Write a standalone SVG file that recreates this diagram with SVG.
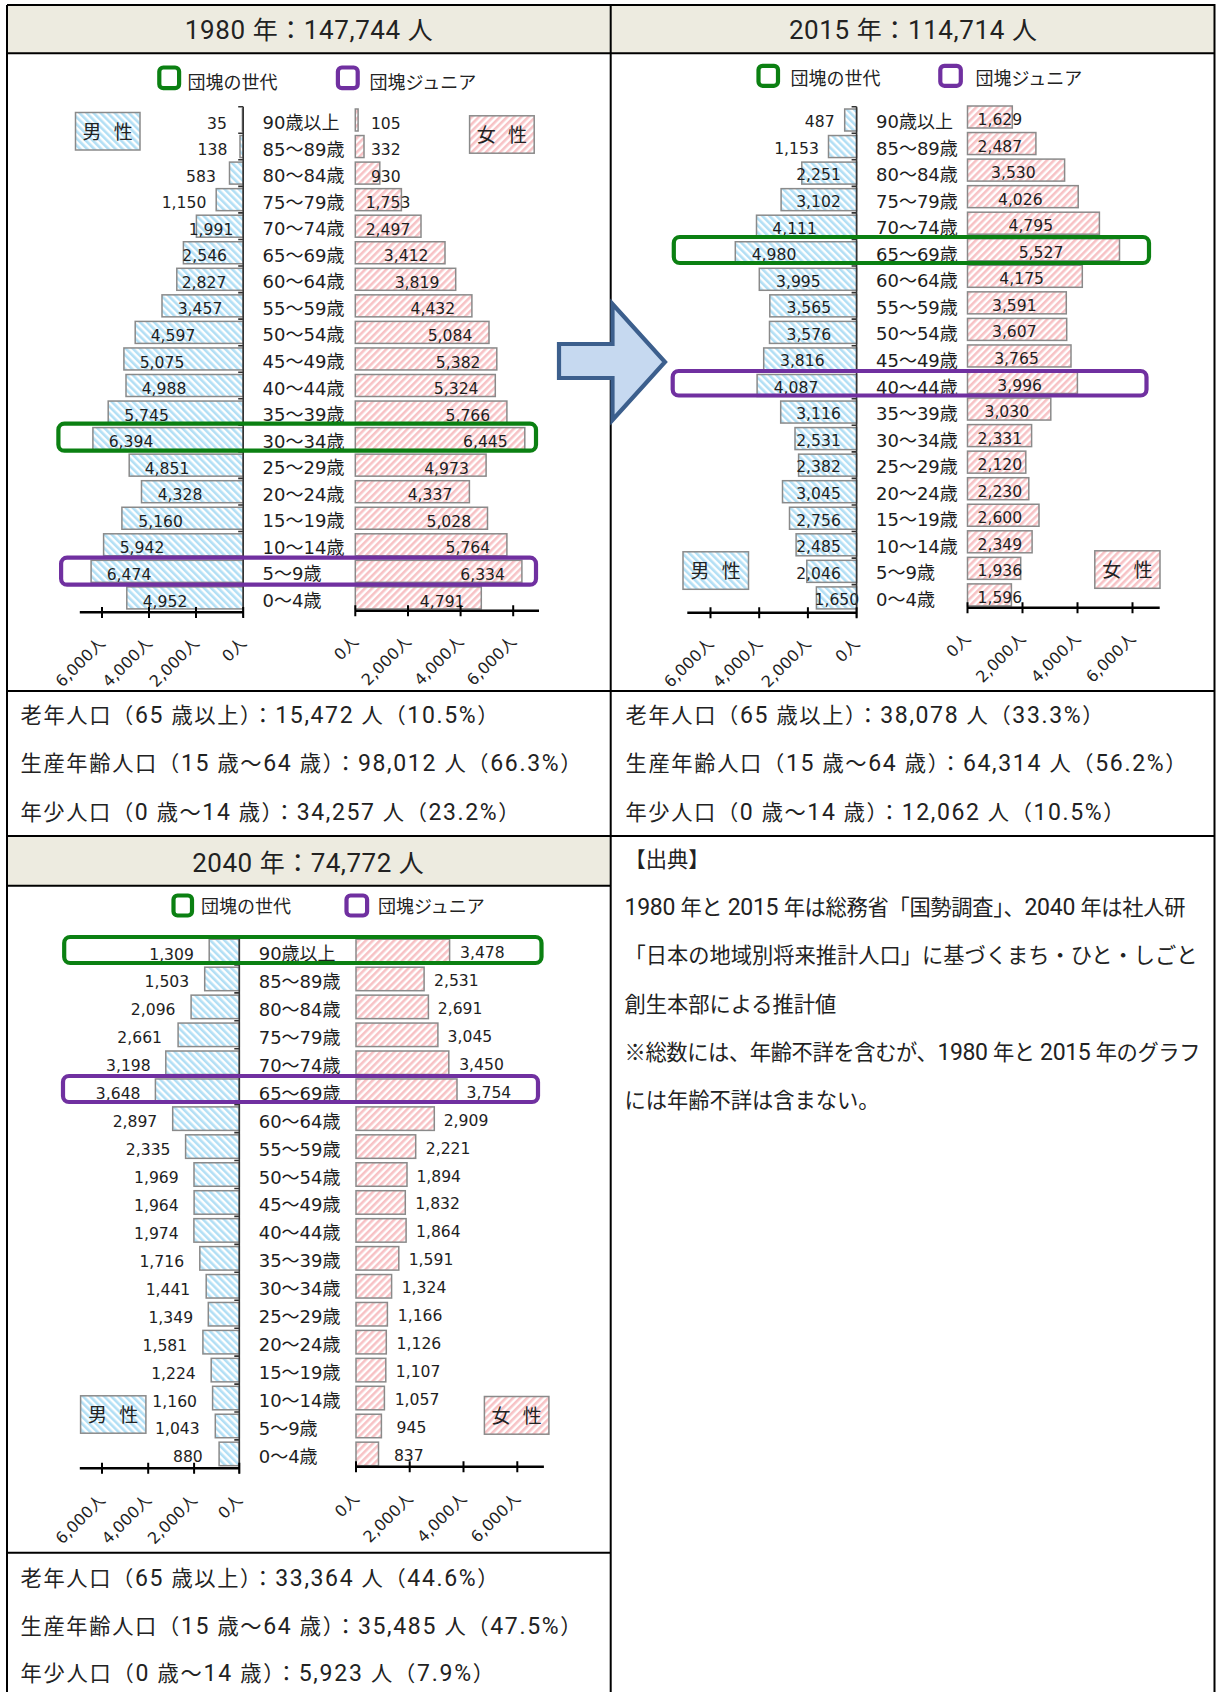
<svg xmlns="http://www.w3.org/2000/svg" width="1216" height="1692" viewBox="0 0 1216 1692">
<style>
.num{font-family:"DejaVu Sans","Noto Sans CJK JP",sans-serif;font-size:15.6px;fill:#1e1e1e;text-anchor:middle}
.ne{text-anchor:end}
.ns{text-anchor:start}
.age{font-family:"DejaVu Sans","Noto Sans CJK JP",sans-serif;font-size:18px;fill:#1e1e1e}
.leg{font-family:"Noto Sans CJK JP",sans-serif;font-size:18px;fill:#222}
.sex{font-family:"Noto Sans CJK JP",sans-serif;font-size:19px;fill:#222;text-anchor:middle;word-spacing:8px}
.body{font-family:"Noto Sans CJK JP",sans-serif;font-size:21.25px;fill:#222}
.lt{font-family:Roboto,"Noto Sans CJK JP",sans-serif;font-size:23px}
.title{font-family:"Noto Sans CJK JP",sans-serif;font-size:25px;fill:#222;text-anchor:middle}
.tl{font-family:Roboto,"Noto Sans CJK JP",sans-serif;font-size:26px}
.tick{font-family:"DejaVu Sans","Noto Sans CJK JP",sans-serif;font-size:16px;fill:#1e1e1e;text-anchor:end}
.bm{fill:url(#hm);stroke:#8a8a8a;stroke-width:1.5}
.bf{fill:url(#hf);stroke:#8a8a8a;stroke-width:1.5}
.ax{stroke:#000;stroke-width:2.6;fill:none}
.tk{stroke:#000;stroke-width:2;fill:none}
.va{stroke:#333;stroke-width:1.6;fill:none}
.hg{fill:none;stroke:#0b8012;stroke-width:4.2}
.hp{fill:none;stroke:#7030a0;stroke-width:4.2}
.grid{stroke:#000;stroke-width:2;fill:none}
</style>
<defs>
<pattern id="hm" width="5" height="5" patternUnits="userSpaceOnUse" patternTransform="rotate(-45)"><rect width="5" height="5" fill="#fff"/><rect width="2.6" height="5" fill="#b2dff5"/></pattern>
<pattern id="hf" width="5" height="5" patternUnits="userSpaceOnUse" patternTransform="rotate(45)"><rect width="5" height="5" fill="#fff"/><rect width="2.6" height="5" fill="#f7c2c5"/></pattern>
</defs>
<rect width="1216" height="1692" fill="#fff"/>
<g id="table">
<rect x="7" y="5" width="1207" height="48.3" fill="#edebe0"/>
<rect x="7" y="836" width="603.7" height="49.7" fill="#edebe0"/>
<path class="grid" d="M7 5H1214.5V1700M7 5V1700M7 53.3H1214.5M7 691H1214.5M7 836H1214.5M7 885.7H610.7M7 1552.7H610.7M610.7 5V1692"/>
</g>
<g id="headers">
<text class="title" x="308.8" y="38.6" textLength="248"><tspan class="tl">1980 </tspan>年：<tspan class="tl">147,744 </tspan>人</text>
<text class="title" x="912.9" y="38.6" textLength="248"><tspan class="tl">2015 </tspan>年：<tspan class="tl">114,714 </tspan>人</text>
<text class="title" x="308" y="872" textLength="231.5"><tspan class="tl">2040 </tspan>年：<tspan class="tl">74,772 </tspan>人</text>
</g>
<g id="chart1980">
<rect x="159.3" y="67.5" width="19.8" height="20.7" rx="4" class="hg" stroke-width="5"/>
<text class="leg" x="187.5" y="88.5">団塊の世代</text>
<rect x="337.9" y="67.5" width="19.8" height="20.7" rx="4" class="hp" stroke-width="5"/>
<text class="leg" x="369.5" y="88.5">団塊ジュニア</text>
<rect class="bm" x="75.5" y="112.5" width="64.5" height="37.5"/>
<text class="sex" x="107.7" y="138.5">男 性</text>
<rect class="bf" x="469.6" y="115.8" width="64.6" height="37.4"/>
<text class="sex" x="501.9" y="141.7">女 性</text>
<g transform="translate(0,120)"><rect class="bm" x="242.4" y="-11" width="0.8" height="22"/><rect class="bf" x="355.3" y="-11" width="2.8" height="22"/><text class="num" x="217" y="8.6">35</text><text class="age" x="262.6" y="9">90歳以上</text><text class="num" x="385.8" y="8.6">105</text></g>
<g transform="translate(0,146.55)"><rect class="bm" x="240" y="-11" width="3.2" height="22"/><rect class="bf" x="355.3" y="-11" width="8.7" height="22"/><text class="num" x="212.5" y="8.6">138</text><text class="age" x="262.6" y="9">85～89歳</text><text class="num" x="385.8" y="8.6">332</text></g>
<g transform="translate(0,173.1)"><rect class="bm" x="229.5" y="-11" width="13.7" height="22"/><rect class="bf" x="355.3" y="-11" width="24.5" height="22"/><text class="num" x="201" y="8.6">583</text><text class="age" x="262.6" y="9">80～84歳</text><text class="num" x="385.8" y="8.6">930</text></g>
<g transform="translate(0,199.65)"><rect class="bm" x="216.2" y="-11" width="27" height="22"/><rect class="bf" x="355.3" y="-11" width="46.1" height="22"/><text class="num" x="184" y="8.6">1,150</text><text class="age" x="262.6" y="9">75～79歳</text><text class="num" x="388" y="8.6">1,753</text></g>
<g transform="translate(0,226.2)"><rect class="bm" x="196.4" y="-11" width="46.8" height="22"/><rect class="bf" x="355.3" y="-11" width="65.7" height="22"/><text class="num" x="211" y="8.6">1,991</text><text class="age" x="262.6" y="9">70～74歳</text><text class="num" x="388" y="8.6">2,497</text></g>
<g transform="translate(0,252.75)"><rect class="bm" x="183.4" y="-11" width="59.8" height="22"/><rect class="bf" x="355.3" y="-11" width="89.7" height="22"/><text class="num" x="204.7" y="8.6">2,546</text><text class="age" x="262.6" y="9">65～69歳</text><text class="num" x="406.2" y="8.6">3,412</text></g>
<g transform="translate(0,279.3)"><rect class="bm" x="176.8" y="-11" width="66.4" height="22"/><rect class="bf" x="355.3" y="-11" width="100.4" height="22"/><text class="num" x="204" y="8.6">2,827</text><text class="age" x="262.6" y="9">60～64歳</text><text class="num" x="417" y="8.6">3,819</text></g>
<g transform="translate(0,305.85)"><rect class="bm" x="162" y="-11" width="81.2" height="22"/><rect class="bf" x="355.3" y="-11" width="116.6" height="22"/><text class="num" x="200" y="8.6">3,457</text><text class="age" x="262.6" y="9">55～59歳</text><text class="num" x="432.9" y="8.6">4,432</text></g>
<g transform="translate(0,332.4)"><rect class="bm" x="135.2" y="-11" width="108" height="22"/><rect class="bf" x="355.3" y="-11" width="133.7" height="22"/><text class="num" x="173" y="8.6">4,597</text><text class="age" x="262.6" y="9">50～54歳</text><text class="num" x="450" y="8.6">5,084</text></g>
<g transform="translate(0,358.95)"><rect class="bm" x="123.9" y="-11" width="119.3" height="22"/><rect class="bf" x="355.3" y="-11" width="141.5" height="22"/><text class="num" x="162" y="8.6">5,075</text><text class="age" x="262.6" y="9">45～49歳</text><text class="num" x="458.2" y="8.6">5,382</text></g>
<g transform="translate(0,385.5)"><rect class="bm" x="126" y="-11" width="117.2" height="22"/><rect class="bf" x="355.3" y="-11" width="140" height="22"/><text class="num" x="164" y="8.6">4,988</text><text class="age" x="262.6" y="9">40～44歳</text><text class="num" x="456.2" y="8.6">5,324</text></g>
<g transform="translate(0,412.05)"><rect class="bm" x="108.2" y="-11" width="135" height="22"/><rect class="bf" x="355.3" y="-11" width="151.6" height="22"/><text class="num" x="146.5" y="8.6">5,745</text><text class="age" x="262.6" y="9">35～39歳</text><text class="num" x="467.9" y="8.6">5,766</text></g>
<g transform="translate(0,438.6)"><rect class="bm" x="92.9" y="-11" width="150.3" height="22"/><rect class="bf" x="355.3" y="-11" width="169.5" height="22"/><text class="num" x="131" y="8.6">6,394</text><text class="age" x="262.6" y="9">30～34歳</text><text class="num" x="485.4" y="8.6">6,445</text></g>
<g transform="translate(0,465.15)"><rect class="bm" x="129.2" y="-11" width="114" height="22"/><rect class="bf" x="355.3" y="-11" width="130.8" height="22"/><text class="num" x="167" y="8.6">4,851</text><text class="age" x="262.6" y="9">25～29歳</text><text class="num" x="446.5" y="8.6">4,973</text></g>
<g transform="translate(0,491.7)"><rect class="bm" x="141.5" y="-11" width="101.7" height="22"/><rect class="bf" x="355.3" y="-11" width="114.1" height="22"/><text class="num" x="180" y="8.6">4,328</text><text class="age" x="262.6" y="9">20～24歳</text><text class="num" x="430" y="8.6">4,337</text></g>
<g transform="translate(0,518.25)"><rect class="bm" x="121.9" y="-11" width="121.3" height="22"/><rect class="bf" x="355.3" y="-11" width="132.2" height="22"/><text class="num" x="160.6" y="8.6">5,160</text><text class="age" x="262.6" y="9">15～19歳</text><text class="num" x="448.8" y="8.6">5,028</text></g>
<g transform="translate(0,544.8)"><rect class="bm" x="103.6" y="-11" width="139.6" height="22"/><rect class="bf" x="355.3" y="-11" width="151.6" height="22"/><text class="num" x="142" y="8.6">5,942</text><text class="age" x="262.6" y="9">10～14歳</text><text class="num" x="467.9" y="8.6">5,764</text></g>
<g transform="translate(0,571.35)"><rect class="bm" x="91.1" y="-11" width="152.1" height="22"/><rect class="bf" x="355.3" y="-11" width="166.6" height="22"/><text class="num" x="129" y="8.6">6,474</text><text class="age" x="262.6" y="9">5～9歳</text><text class="num" x="482.6" y="8.6">6,334</text></g>
<g transform="translate(0,597.9)"><rect class="bm" x="126.8" y="-11" width="116.4" height="22"/><rect class="bf" x="355.3" y="-11" width="126" height="22"/><text class="num" x="165" y="8.6">4,952</text><text class="age" x="262.6" y="9">0～4歳</text><text class="num" x="442.2" y="8.6">4,791</text></g>
<path class="va" d="M243.2 106.7V617M238.2 106.7h5M238.2 133.3h5M238.2 159.8h5M238.2 186.4h5M238.2 212.9h5M238.2 239.5h5M238.2 266h5M238.2 292.6h5M238.2 319.1h5M238.2 345.7h5M238.2 372.2h5M238.2 398.8h5M238.2 425.3h5M238.2 451.9h5M238.2 478.4h5M238.2 505h5M238.2 531.5h5M238.2 558.1h5M238.2 584.6h5"/>
<path class="ax" d="M79.8 612.3H243.2M355.3 610.7H539"/>
<path class="tk" d="M102 607v11M149 607v11M196 607v11M243.2 607v11M355.3 605.2v11M408 605.2v11M460.6 605.2v11M513.2 605.2v11"/>
<text class="tick" transform="translate(106,644.3) rotate(-45)">6,000人</text>
<text class="tick" transform="translate(153,644.3) rotate(-45)">4,000人</text>
<text class="tick" transform="translate(200,644.3) rotate(-45)">2,000人</text>
<text class="tick" transform="translate(247.2,644.3) rotate(-45)">0人</text>
<text class="tick" transform="translate(359.3,642.7) rotate(-45)">0人</text>
<text class="tick" transform="translate(412,642.7) rotate(-45)">2,000人</text>
<text class="tick" transform="translate(464.6,642.7) rotate(-45)">4,000人</text>
<text class="tick" transform="translate(517.2,642.7) rotate(-45)">6,000人</text>
<rect class="hg" x="58.4" y="423.7" width="477.6" height="27" rx="6"/>
<rect class="hp" x="61.1" y="557.7" width="474.9" height="27" rx="6"/>
</g>
<g id="chart2015">
<rect x="758.5" y="65.8" width="19.5" height="20" rx="4" class="hg" stroke-width="5"/>
<text class="leg" x="790.5" y="85">団塊の世代</text>
<rect x="940.3" y="65.8" width="20.5" height="20" rx="4" class="hp" stroke-width="5"/>
<text class="leg" x="975.5" y="85">団塊ジュニア</text>
<g transform="translate(0,120)"><rect class="bm" x="844.7" y="-11" width="11.9" height="22"/><rect class="bf" x="967.5" y="-14" width="44.8" height="22"/><text class="num" x="819.7" y="7.3">487</text><text class="age" x="876" y="8">90歳以上</text><text class="num" x="999.9" y="5">1,629</text></g>
<g transform="translate(0,146.55)"><rect class="bm" x="828.5" y="-11" width="28.1" height="22"/><rect class="bf" x="967.5" y="-14" width="68.4" height="22"/><text class="num" x="796.5" y="7.3">1,153</text><text class="age" x="876" y="8">85～89歳</text><text class="num" x="999.9" y="5">2,487</text></g>
<g transform="translate(0,173.1)"><rect class="bm" x="801.8" y="-11" width="54.8" height="22"/><rect class="bf" x="967.5" y="-14" width="97.1" height="22"/><text class="num" x="818.5" y="7.3">2,251</text><text class="age" x="876" y="8">80～84歳</text><text class="num" x="1013.4" y="5">3,530</text></g>
<g transform="translate(0,199.65)"><rect class="bm" x="781.1" y="-11" width="75.5" height="22"/><rect class="bf" x="967.5" y="-14" width="110.7" height="22"/><text class="num" x="818.5" y="7.3">3,102</text><text class="age" x="876" y="8">75～79歳</text><text class="num" x="1020.3" y="5">4,026</text></g>
<g transform="translate(0,226.2)"><rect class="bm" x="756.5" y="-11" width="100.1" height="22"/><rect class="bf" x="967.5" y="-14" width="131.9" height="22"/><text class="num" x="794.6" y="7.3">4,111</text><text class="age" x="876" y="8">70～74歳</text><text class="num" x="1030.8" y="5">4,795</text></g>
<g transform="translate(0,252.75)"><rect class="bm" x="735.3" y="-11" width="121.3" height="22"/><rect class="bf" x="967.5" y="-14" width="152" height="22"/><text class="num" x="774" y="7.3">4,980</text><text class="age" x="876" y="8">65～69歳</text><text class="num" x="1041" y="5">5,527</text></g>
<g transform="translate(0,279.3)"><rect class="bm" x="759.3" y="-11" width="97.3" height="22"/><rect class="bf" x="967.5" y="-14" width="114.8" height="22"/><text class="num" x="798.4" y="7.3">3,995</text><text class="age" x="876" y="8">60～64歳</text><text class="num" x="1021.7" y="5">4,175</text></g>
<g transform="translate(0,305.85)"><rect class="bm" x="769.8" y="-11" width="86.8" height="22"/><rect class="bf" x="967.5" y="-14" width="98.8" height="22"/><text class="num" x="808.8" y="7.3">3,565</text><text class="age" x="876" y="8">55～59歳</text><text class="num" x="1014.3" y="5">3,591</text></g>
<g transform="translate(0,332.4)"><rect class="bm" x="769.5" y="-11" width="87.1" height="22"/><rect class="bf" x="967.5" y="-14" width="99.2" height="22"/><text class="num" x="808.8" y="7.3">3,576</text><text class="age" x="876" y="8">50～54歳</text><text class="num" x="1014.3" y="5">3,607</text></g>
<g transform="translate(0,358.95)"><rect class="bm" x="763.7" y="-11" width="92.9" height="22"/><rect class="bf" x="967.5" y="-14" width="103.5" height="22"/><text class="num" x="802.3" y="7.3">3,816</text><text class="age" x="876" y="8">45～49歳</text><text class="num" x="1016.5" y="5">3,765</text></g>
<g transform="translate(0,385.5)"><rect class="bm" x="757.1" y="-11" width="99.5" height="22"/><rect class="bf" x="967.5" y="-14" width="109.9" height="22"/><text class="num" x="796" y="7.3">4,087</text><text class="age" x="876" y="8">40～44歳</text><text class="num" x="1019.7" y="5">3,996</text></g>
<g transform="translate(0,412.05)"><rect class="bm" x="780.7" y="-11" width="75.9" height="22"/><rect class="bf" x="967.5" y="-14" width="83.3" height="22"/><text class="num" x="818.5" y="7.3">3,116</text><text class="age" x="876" y="8">35～39歳</text><text class="num" x="1006.8" y="5">3,030</text></g>
<g transform="translate(0,438.6)"><rect class="bm" x="795" y="-11" width="61.6" height="22"/><rect class="bf" x="967.5" y="-14" width="64.1" height="22"/><text class="num" x="818.5" y="7.3">2,531</text><text class="age" x="876" y="8">30～34歳</text><text class="num" x="999.9" y="5">2,331</text></g>
<g transform="translate(0,465.15)"><rect class="bm" x="798.6" y="-11" width="58" height="22"/><rect class="bf" x="967.5" y="-14" width="58.3" height="22"/><text class="num" x="818.5" y="7.3">2,382</text><text class="age" x="876" y="8">25～29歳</text><text class="num" x="999.9" y="5">2,120</text></g>
<g transform="translate(0,491.7)"><rect class="bm" x="782.5" y="-11" width="74.1" height="22"/><rect class="bf" x="967.5" y="-14" width="61.3" height="22"/><text class="num" x="818.5" y="7.3">3,045</text><text class="age" x="876" y="8">20～24歳</text><text class="num" x="999.9" y="5">2,230</text></g>
<g transform="translate(0,518.25)"><rect class="bm" x="789.5" y="-11" width="67.1" height="22"/><rect class="bf" x="967.5" y="-14" width="71.5" height="22"/><text class="num" x="818.5" y="7.3">2,756</text><text class="age" x="876" y="8">15～19歳</text><text class="num" x="999.9" y="5">2,600</text></g>
<g transform="translate(0,544.8)"><rect class="bm" x="796.1" y="-11" width="60.5" height="22"/><rect class="bf" x="967.5" y="-14" width="64.6" height="22"/><text class="num" x="818.5" y="7.3">2,485</text><text class="age" x="876" y="8">10～14歳</text><text class="num" x="999.9" y="5">2,349</text></g>
<g transform="translate(0,571.35)"><rect class="bm" x="806.8" y="-11" width="49.8" height="22"/><rect class="bf" x="967.5" y="-14" width="53.2" height="22"/><text class="num" x="818.5" y="7.3">2,046</text><text class="age" x="876" y="8">5～9歳</text><text class="num" x="999.9" y="5">1,936</text></g>
<g transform="translate(0,597.9)"><rect class="bm" x="816.4" y="-11" width="40.2" height="22"/><rect class="bf" x="967.5" y="-14" width="43.9" height="22"/><text class="num" x="836.9" y="7.3">1,650</text><text class="age" x="876" y="8">0～4歳</text><text class="num" x="999.9" y="5">1,596</text></g>
<rect class="bm" x="683" y="551.8" width="65.5" height="37.5"/>
<text class="sex" x="715.7" y="577.7">男 性</text>
<rect class="bf" x="1094.8" y="550.8" width="65.2" height="37.5"/>
<text class="sex" x="1127.4" y="576.7">女 性</text>
<path class="va" d="M856.6 106.7V617.5M851.6 106.7h5M851.6 133.3h5M851.6 159.8h5M851.6 186.4h5M851.6 212.9h5M851.6 239.5h5M851.6 266h5M851.6 292.6h5M851.6 319.1h5M851.6 345.7h5M851.6 372.2h5M851.6 398.8h5M851.6 425.3h5M851.6 451.9h5M851.6 478.4h5M851.6 505h5M851.6 531.5h5M851.6 558.1h5M851.6 584.6h5"/>
<path class="ax" d="M687.3 612.7H856.6M967.5 607.7H1159.7"/>
<path class="tk" d="M710.5 607.2v11M759.2 607.2v11M807.9 607.2v11M856.6 607.2v11M967.5 602.2v11M1022.5 602.2v11M1077.5 602.2v11M1132.5 602.2v11"/>
<text class="tick" transform="translate(714.5,644.7) rotate(-45)">6,000人</text>
<text class="tick" transform="translate(763.2,644.7) rotate(-45)">4,000人</text>
<text class="tick" transform="translate(811.9,644.7) rotate(-45)">2,000人</text>
<text class="tick" transform="translate(860.6,644.7) rotate(-45)">0人</text>
<text class="tick" transform="translate(971.5,639.7) rotate(-45)">0人</text>
<text class="tick" transform="translate(1026.5,639.7) rotate(-45)">2,000人</text>
<text class="tick" transform="translate(1081.5,639.7) rotate(-45)">4,000人</text>
<text class="tick" transform="translate(1136.5,639.7) rotate(-45)">6,000人</text>
<rect class="hg" x="673.8" y="237" width="475.2" height="26" rx="6"/>
<rect class="hp" x="672.7" y="371" width="473.8" height="24.5" rx="6"/>
</g>
<g id="chart2040">
<rect x="173.5" y="895.5" width="18.5" height="20" rx="4" class="hg" stroke-width="5"/>
<text class="leg" x="201" y="913">団塊の世代</text>
<rect x="346.5" y="895.5" width="20.6" height="20" rx="4" class="hp" stroke-width="5"/>
<text class="leg" x="378" y="913">団塊ジュニア</text>
<g transform="translate(0,951)"><rect class="bm" x="209.2" y="-11.75" width="30.1" height="23.5"/><rect class="bf" x="356" y="-11.75" width="93.6" height="23.5"/><text class="num ne" x="193.9" y="8.5">1,309</text><text class="age" x="258.7" y="9">90歳以上</text><text class="num ns" x="460" y="7">3,478</text></g>
<g transform="translate(0,978.94)"><rect class="bm" x="204.7" y="-11.75" width="34.6" height="23.5"/><rect class="bf" x="356" y="-11.75" width="68.1" height="23.5"/><text class="num ne" x="189.2" y="8.5">1,503</text><text class="age" x="258.7" y="9">85～89歳</text><text class="num ns" x="434" y="7">2,531</text></g>
<g transform="translate(0,1006.88)"><rect class="bm" x="191.1" y="-11.75" width="48.2" height="23.5"/><rect class="bf" x="356" y="-11.75" width="72.4" height="23.5"/><text class="num ne" x="175.5" y="8.5">2,096</text><text class="age" x="258.7" y="9">80～84歳</text><text class="num ns" x="437.8" y="7">2,691</text></g>
<g transform="translate(0,1034.82)"><rect class="bm" x="178.1" y="-11.75" width="61.2" height="23.5"/><rect class="bf" x="356" y="-11.75" width="81.9" height="23.5"/><text class="num ne" x="162" y="8.5">2,661</text><text class="age" x="258.7" y="9">75～79歳</text><text class="num ns" x="447.6" y="7">3,045</text></g>
<g transform="translate(0,1062.76)"><rect class="bm" x="165.8" y="-11.75" width="73.5" height="23.5"/><rect class="bf" x="356" y="-11.75" width="92.8" height="23.5"/><text class="num ne" x="150.7" y="8.5">3,198</text><text class="age" x="258.7" y="9">70～74歳</text><text class="num ns" x="459.2" y="7">3,450</text></g>
<g transform="translate(0,1090.7)"><rect class="bm" x="155.4" y="-11.75" width="83.9" height="23.5"/><rect class="bf" x="356" y="-11.75" width="101" height="23.5"/><text class="num ne" x="140.5" y="8.5">3,648</text><text class="age" x="258.7" y="9">65～69歳</text><text class="num ns" x="466.6" y="7">3,754</text></g>
<g transform="translate(0,1118.64)"><rect class="bm" x="172.7" y="-11.75" width="66.6" height="23.5"/><rect class="bf" x="356" y="-11.75" width="78.3" height="23.5"/><text class="num ne" x="157.3" y="8.5">2,897</text><text class="age" x="258.7" y="9">60～64歳</text><text class="num ns" x="443.7" y="7">2,909</text></g>
<g transform="translate(0,1146.58)"><rect class="bm" x="185.6" y="-11.75" width="53.7" height="23.5"/><rect class="bf" x="356" y="-11.75" width="59.7" height="23.5"/><text class="num ne" x="170.5" y="8.5">2,335</text><text class="age" x="258.7" y="9">55～59歳</text><text class="num ns" x="425.8" y="7">2,221</text></g>
<g transform="translate(0,1174.52)"><rect class="bm" x="194" y="-11.75" width="45.3" height="23.5"/><rect class="bf" x="356" y="-11.75" width="51" height="23.5"/><text class="num ne" x="178.7" y="8.5">1,969</text><text class="age" x="258.7" y="9">50～54歳</text><text class="num ns" x="416.4" y="7">1,894</text></g>
<g transform="translate(0,1202.46)"><rect class="bm" x="194.1" y="-11.75" width="45.2" height="23.5"/><rect class="bf" x="356" y="-11.75" width="49.3" height="23.5"/><text class="num ne" x="178.7" y="8.5">1,964</text><text class="age" x="258.7" y="9">45～49歳</text><text class="num ns" x="415.3" y="7">1,832</text></g>
<g transform="translate(0,1230.4)"><rect class="bm" x="193.9" y="-11.75" width="45.4" height="23.5"/><rect class="bf" x="356" y="-11.75" width="50.1" height="23.5"/><text class="num ne" x="178.7" y="8.5">1,974</text><text class="age" x="258.7" y="9">40～44歳</text><text class="num ns" x="416" y="7">1,864</text></g>
<g transform="translate(0,1258.34)"><rect class="bm" x="199.8" y="-11.75" width="39.5" height="23.5"/><rect class="bf" x="356" y="-11.75" width="42.8" height="23.5"/><text class="num ne" x="184.1" y="8.5">1,716</text><text class="age" x="258.7" y="9">35～39歳</text><text class="num ns" x="408.7" y="7">1,591</text></g>
<g transform="translate(0,1286.28)"><rect class="bm" x="206.2" y="-11.75" width="33.1" height="23.5"/><rect class="bf" x="356" y="-11.75" width="35.6" height="23.5"/><text class="num ne" x="190.3" y="8.5">1,441</text><text class="age" x="258.7" y="9">30～34歳</text><text class="num ns" x="401.7" y="7">1,324</text></g>
<g transform="translate(0,1314.22)"><rect class="bm" x="208.3" y="-11.75" width="31" height="23.5"/><rect class="bf" x="356" y="-11.75" width="31.4" height="23.5"/><text class="num ne" x="193.1" y="8.5">1,349</text><text class="age" x="258.7" y="9">25～29歳</text><text class="num ns" x="397.8" y="7">1,166</text></g>
<g transform="translate(0,1342.16)"><rect class="bm" x="202.9" y="-11.75" width="36.4" height="23.5"/><rect class="bf" x="356" y="-11.75" width="30.3" height="23.5"/><text class="num ne" x="187.2" y="8.5">1,581</text><text class="age" x="258.7" y="9">20～24歳</text><text class="num ns" x="396.6" y="7">1,126</text></g>
<g transform="translate(0,1370.1)"><rect class="bm" x="211.2" y="-11.75" width="28.1" height="23.5"/><rect class="bf" x="356" y="-11.75" width="29.8" height="23.5"/><text class="num ne" x="195.8" y="8.5">1,224</text><text class="age" x="258.7" y="9">15～19歳</text><text class="num ns" x="395.8" y="7">1,107</text></g>
<g transform="translate(0,1398.04)"><rect class="bm" x="212.6" y="-11.75" width="26.7" height="23.5"/><rect class="bf" x="356" y="-11.75" width="28.4" height="23.5"/><text class="num ne" x="197" y="8.5">1,160</text><text class="age" x="258.7" y="9">10～14歳</text><text class="num ns" x="394.7" y="7">1,057</text></g>
<g transform="translate(0,1425.98)"><rect class="bm" x="215.3" y="-11.75" width="24" height="23.5"/><rect class="bf" x="356" y="-11.75" width="25.4" height="23.5"/><text class="num ne" x="199.7" y="8.5">1,043</text><text class="age" x="258.7" y="9">5～9歳</text><text class="num ns" x="396.6" y="7">945</text></g>
<g transform="translate(0,1453.92)"><rect class="bm" x="219.1" y="-11.75" width="20.2" height="23.5"/><rect class="bf" x="356" y="-11.75" width="22.5" height="23.5"/><text class="num ne" x="202.8" y="8.5">880</text><text class="age" x="258.7" y="9">0～4歳</text><text class="num ns" x="393.9" y="7">837</text></g>
<rect class="bm" x="80.6" y="1395.8" width="65.3" height="37.4"/>
<text class="sex" x="113.2" y="1421.7">男 性</text>
<rect class="bf" x="484.4" y="1396.5" width="64.5" height="37.7"/>
<text class="sex" x="516.6" y="1422.5">女 性</text>
<path class="va" d="M239.3 937V1473.5M234.3 937h5M234.3 965h5M234.3 992.9h5M234.3 1020.8h5M234.3 1048.8h5M234.3 1076.7h5M234.3 1104.7h5M234.3 1132.6h5M234.3 1160.5h5M234.3 1188.5h5M234.3 1216.4h5M234.3 1244.4h5M234.3 1272.3h5M234.3 1300.2h5M234.3 1328.2h5M234.3 1356.1h5M234.3 1384.1h5M234.3 1412h5M234.3 1439.9h5"/>
<path class="ax" d="M79.8 1468.3H239.3M356 1466.7H543.9"/>
<path class="tk" d="M102 1462.8v11M148.2 1462.8v11M194.1 1462.8v11M239.3 1462.8v11M356 1461.2v11M409.7 1461.2v11M463.5 1461.2v11M517.3 1461.2v11"/>
<text class="tick" transform="translate(106,1501.3) rotate(-45)">6,000人</text>
<text class="tick" transform="translate(152.2,1501.3) rotate(-45)">4,000人</text>
<text class="tick" transform="translate(198.1,1501.3) rotate(-45)">2,000人</text>
<text class="tick" transform="translate(243.3,1501.3) rotate(-45)">0人</text>
<text class="tick" transform="translate(360,1499.7) rotate(-45)">0人</text>
<text class="tick" transform="translate(413.7,1499.7) rotate(-45)">2,000人</text>
<text class="tick" transform="translate(467.5,1499.7) rotate(-45)">4,000人</text>
<text class="tick" transform="translate(521.3,1499.7) rotate(-45)">6,000人</text>
<rect class="hg" x="64.2" y="937" width="477.3" height="26" rx="6"/>
<rect class="hp" x="63" y="1076" width="475" height="26" rx="6"/>
</g>
<g id="summary1980">
<text class="body" x="20.5" y="723" textLength="478">老年人口（<tspan class="lt">65 </tspan>歳以上）：<tspan class="lt">15,472 </tspan>人（<tspan class="lt">10.5%</tspan>）</text>
<text class="body" x="20.5" y="771.3" textLength="561">生産年齢人口（<tspan class="lt">15 </tspan>歳～<tspan class="lt">64 </tspan>歳）：<tspan class="lt">98,012 </tspan>人（<tspan class="lt">66.3%</tspan>）</text>
<text class="body" x="20.5" y="819.7" textLength="499">年少人口（<tspan class="lt">0 </tspan>歳～<tspan class="lt">14 </tspan>歳）：<tspan class="lt">34,257 </tspan>人（<tspan class="lt">23.2%</tspan>）</text>
</g>
<g id="summary2015">
<text class="body" x="625.5" y="723" textLength="478">老年人口（<tspan class="lt">65 </tspan>歳以上）：<tspan class="lt">38,078 </tspan>人（<tspan class="lt">33.3%</tspan>）</text>
<text class="body" x="625.5" y="771.3" textLength="561">生産年齢人口（<tspan class="lt">15 </tspan>歳～<tspan class="lt">64 </tspan>歳）：<tspan class="lt">64,314 </tspan>人（<tspan class="lt">56.2%</tspan>）</text>
<text class="body" x="625.5" y="819.7" textLength="499">年少人口（<tspan class="lt">0 </tspan>歳～<tspan class="lt">14 </tspan>歳）：<tspan class="lt">12,062 </tspan>人（<tspan class="lt">10.5%</tspan>）</text>
</g>
<g id="source">
<text class="body" x="624.5" y="866.5">【出典】</text>
<text class="body" x="624.5" y="914.8" textLength="561"><tspan class="lt">1980 </tspan>年と<tspan class="lt"> 2015 </tspan>年は総務省「国勢調査」、<tspan class="lt">2040 </tspan>年は社人研</text>
<text class="body" x="624.5" y="963.2">「日本の地域別将来推計人口」に基づくまち・ひと・しごと</text>
<text class="body" x="624.5" y="1011.5">創生本部による推計値</text>
<text class="body" x="624.5" y="1059.8" textLength="576">※総数には、年齢不詳を含むが、<tspan class="lt">1980 </tspan>年と<tspan class="lt"> 2015 </tspan>年のグラフ</text>
<text class="body" x="624.5" y="1108.2">には年齢不詳は含まない。</text>
</g>
<g id="summary2040">
<text class="body" x="20.5" y="1586" textLength="478">老年人口（<tspan class="lt">65 </tspan>歳以上）：<tspan class="lt">33,364 </tspan>人（<tspan class="lt">44.6%</tspan>）</text>
<text class="body" x="20.5" y="1634.3" textLength="561">生産年齢人口（<tspan class="lt">15 </tspan>歳～<tspan class="lt">64 </tspan>歳）：<tspan class="lt">35,485 </tspan>人（<tspan class="lt">47.5%</tspan>）</text>
<text class="body" x="20.5" y="1681" textLength="473.5">年少人口（<tspan class="lt">0 </tspan>歳～<tspan class="lt">14 </tspan>歳）：<tspan class="lt">5,923 </tspan>人（<tspan class="lt">7.9%</tspan>）</text>
</g>
<g id="connectors">
<path d="M559 344H612.5V304L665 362L612.5 420V378H559Z" fill="#c6d9f0" stroke="#3c5f8d" stroke-width="4.2" stroke-linejoin="miter"/>
</g>
</svg>
